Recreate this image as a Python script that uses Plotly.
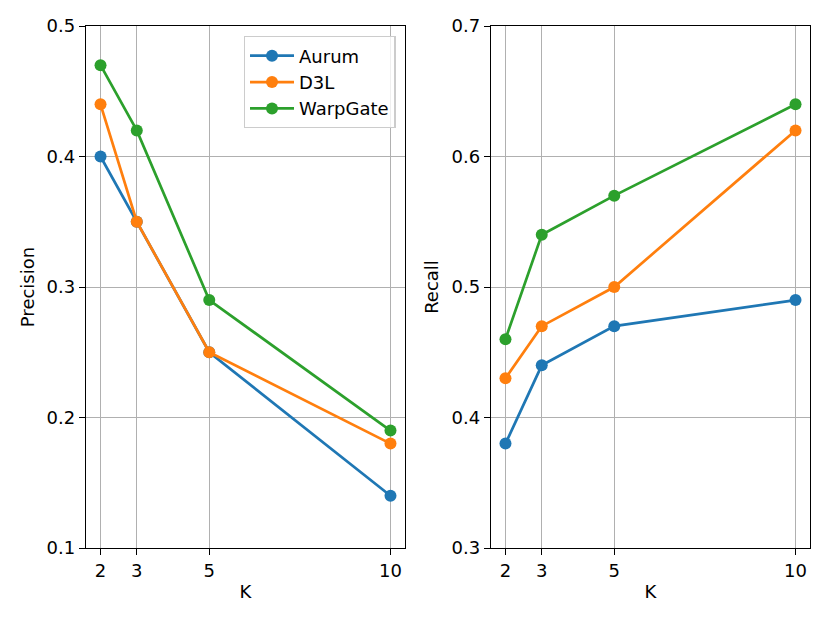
import plotly.graph_objects as go
from plotly.subplots import make_subplots

k_values = [2, 3, 5, 10]
methods = ["Aurum", "D3L", "WarpGate"]
colors = ["#1f77b4", "#ff7f0e", "#2ca02c"]

precision_aurum = [0.40, 0.35, 0.25, 0.14]
precision_d3l = [0.44, 0.35, 0.25, 0.18]
precision_warpgate = [0.47, 0.42, 0.29, 0.19]

recall_aurum = [0.38, 0.44, 0.47, 0.49]
recall_d3l = [0.43, 0.47, 0.50, 0.62]
recall_warpgate = [0.46, 0.54, 0.57, 0.64]

precision = [precision_aurum, precision_d3l, precision_warpgate]
recall = [recall_aurum, recall_d3l, recall_warpgate]

font = dict(family="DejaVu Sans", size=18, color="black")

fig = make_subplots(rows=1, cols=2)

for i, name in enumerate(methods):
    style = dict(mode="lines+markers",
                 line=dict(color=colors[i], width=2.7),
                 marker=dict(color=colors[i], size=12))
    fig.add_trace(go.Scatter(x=k_values, y=precision[i], name=name,
                             legendgroup=name, **style), row=1, col=1)
    fig.add_trace(go.Scatter(x=k_values, y=recall[i], name=name,
                             legendgroup=name, showlegend=False, **style), row=1, col=2)

axis_style = dict(showline=True, linecolor="black", linewidth=1.4, mirror=True,
                  ticks="outside", ticklen=6, tickwidth=1.4, tickcolor="black",
                  showgrid=True, gridcolor="#b0b0b0", gridwidth=1.4,
                  zeroline=False, tickfont=font, automargin=False)

fig.update_xaxes(range=[1.6, 10.4], tickvals=k_values,
                 title=dict(text="K", font=font, standoff=5), **axis_style)
fig.update_yaxes(dtick=0.1, tickformat=".1f", **axis_style)

# the page puts the plot 8px in from the top-left corner
fig.update_layout(
    width=830, height=623,
    margin=dict(l=0, r=0, t=0, b=0),
    paper_bgcolor="white", plot_bgcolor="white",
    font=font,
    xaxis=dict(domain=[0.094, 0.4783]),
    xaxis2=dict(domain=[0.5819, 0.9663]),
    yaxis=dict(domain=[0.1332, 0.9711], range=[0.1, 0.5],
               title=dict(text="Precision", font=font, standoff=7)),
    yaxis2=dict(domain=[0.1332, 0.9711], range=[0.3, 0.7],
                title=dict(text="Recall", font=font, standoff=8)),
    legend=dict(x=0.467, y=0.955, xanchor="right", yanchor="top",
                bgcolor="rgba(255,255,255,0.8)", bordercolor="#cccccc",
                borderwidth=1.4, font=font, tracegroupgap=0, itemwidth=44),
    showlegend=True,
)

fig.write_html("out.html")
